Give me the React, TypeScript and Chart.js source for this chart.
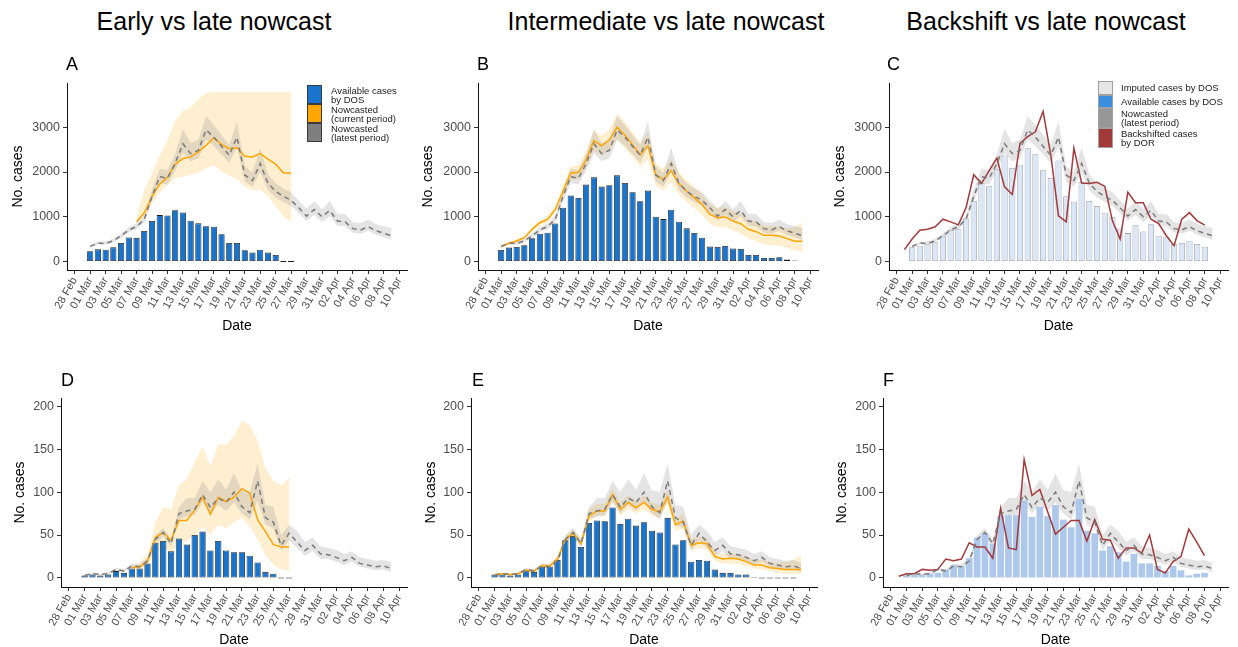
import React, { useEffect, useRef } from 'react';
import { Chart, registerables } from 'chart.js';

Chart.register(...registerables);

const FONT = "'Liberation Sans', Arial, Helvetica, sans-serif";

// ---------- axis categories ----------
const ORIGIN_DATE = '2020-02-28';
const TICK_DATES = [
  '2020-02-28', '2020-03-01', '2020-03-03', '2020-03-05', '2020-03-07', '2020-03-09', '2020-03-11',
  '2020-03-13', '2020-03-15', '2020-03-17', '2020-03-19', '2020-03-21', '2020-03-23', '2020-03-25',
  '2020-03-27', '2020-03-29', '2020-03-31', '2020-04-02', '2020-04-04', '2020-04-06', '2020-04-08',
  '2020-04-10',
];
const TICK_LABELS = [
  '28 Feb', '01 Mar', '03 Mar', '05 Mar', '07 Mar', '09 Mar', '11 Mar', '13 Mar', '15 Mar', '17 Mar',
  '19 Mar', '21 Mar', '23 Mar', '25 Mar', '27 Mar', '29 Mar', '31 Mar', '02 Apr', '04 Apr', '06 Apr',
  '08 Apr', '10 Apr',
];
const X_MIN_DATE = '2020-02-27';
const X_MAX_DATE = '2020-04-11';
const TOP_Y_TICKS = [0, 1000, 2000, 3000];
const BOTTOM_Y_TICKS = [0, 50, 100, 150, 200];
const TOP_Y_RANGE = [-190, 3990];
const BOTTOM_Y_RANGE = [-10.5, 209.5];

// ---------- series start dates ----------
const LATEST_START = '2020-03-01';
const EARLY_START = '2020-03-07';
const INTER_START = '2020-03-01';
const BARS_START = '2020-03-01';
const BACK_START = '2020-02-29';

// ---------- top row (all cases) ----------
const LATEST_TOP = [338, 412, 400, 463, 574, 706, 779, 941, 1456, 1897, 1860, 2191, 2632, 2412, 2485, 2941, 2779, 2574, 2375, 2779, 1934, 1809, 2191, 1750, 1566, 1456, 1368, 1199, 1015, 1162, 1000, 1140, 904, 882, 735, 706, 779, 684, 632, 574];
const LATEST_TOP_HI = [370, 440, 450, 510, 630, 770, 850, 1030, 1600, 2080, 2040, 2400, 2960, 2650, 2720, 3250, 3050, 2830, 2610, 3130, 2130, 1990, 2550, 1950, 1750, 1630, 1550, 1360, 1180, 1350, 1170, 1350, 1070, 1060, 880, 860, 940, 830, 790, 750];
const LATEST_TOP_LO = [310, 380, 380, 430, 530, 650, 720, 870, 1350, 1750, 1720, 2030, 2420, 2240, 2300, 2720, 2580, 2390, 2200, 2560, 1790, 1670, 2000, 1600, 1430, 1330, 1240, 1080, 910, 1040, 880, 1010, 800, 780, 640, 620, 690, 600, 540, 480];

const EARLY_TOP = [882, 1088, 1456, 1728, 1882, 2176, 2301, 2338, 2449, 2596, 2765, 2618, 2522, 2544, 2353, 2338, 2412, 2287, 2176, 1985, 1970];
const EARLY_TOP_HI = [1000, 1600, 1970, 2375, 2706, 3147, 3368, 3441, 3625, 3772, 3787, 3787, 3787, 3787, 3787, 3787, 3787, 3787, 3787, 3787, 3787];
const EARLY_TOP_LO = [860, 1015, 1309, 1530, 1713, 1860, 1897, 1934, 1985, 2081, 2154, 2007, 1912, 1838, 1676, 1588, 1603, 1456, 1235, 1015, 882];

const INTER_TOP = [333, 407, 459, 533, 719, 867, 941, 1163, 1570, 1978, 1993, 2274, 2704, 2585, 2719, 3000, 2830, 2607, 2385, 2585, 1941, 1830, 2030, 1741, 1570, 1422, 1274, 1052, 978, 993, 904, 844, 719, 667, 585, 585, 570, 511, 452, 452];
const INTER_TOP_HI = [350, 430, 490, 570, 770, 930, 1010, 1250, 1690, 2130, 2150, 2460, 2930, 2810, 2960, 3300, 3130, 2890, 2660, 2890, 2190, 2080, 2290, 2000, 1820, 1670, 1510, 1280, 1200, 1220, 1130, 1070, 940, 890, 800, 800, 790, 730, 780, 870];
const INTER_TOP_LO = [315, 385, 430, 500, 670, 810, 870, 1080, 1450, 1830, 1840, 2090, 2480, 2360, 2480, 2720, 2540, 2330, 2120, 2290, 1700, 1590, 1770, 1500, 1330, 1190, 1050, 840, 770, 770, 690, 630, 510, 460, 380, 370, 350, 300, 250, 220];

const BARS_A = [228, 272, 265, 316, 412, 537, 529, 684, 904, 1037, 1029, 1147, 1096, 912, 853, 787, 779, 610, 412, 412, 250, 199, 265, 199, 147, 0, 0];
const BARS_B = [259, 311, 326, 363, 519, 622, 644, 852, 1200, 1474, 1422, 1719, 1881, 1674, 1704, 1926, 1756, 1548, 1348, 1585, 1000, 948, 1156, 889, 741, 637, 533, 333, 326, 348, 289, 281, 148, 148, 81, 81, 96, 44, 7];
const BARS_C = [317, 354, 384, 428, 576, 701, 723, 959, 1351, 1756, 1683, 2066, 2369, 2089, 2162, 2531, 2399, 2037, 1867, 2258, 1461, 1336, 1771, 1351, 1240, 1092, 996, 738, 635, 812, 672, 834, 576, 554, 391, 413, 465, 391, 332];
const BACK_TOP = [266, 502, 701, 723, 775, 945, 886, 819, 1203, 1941, 1742, 2030, 2310, 1668, 1498, 2642, 2790, 2900, 3358, 2384, 1018, 886, 2531, 1756, 1742, 1771, 1683, 908, 502, 1550, 1314, 1314, 945, 849, 576, 354, 945, 1092, 908, 812];

// ---------- bottom row ----------
const LATEST_BOT = [3, 5, 4, 5, 10, 8, 14, 13, 20, 45, 53, 40, 75, 78, 80, 97, 82, 93, 88, 100, 83, 76, 113, 70, 65, 38, 52, 42, 32, 38, 28, 27, 24, 20, 24, 17, 15, 13, 14, 11];
const LATEST_BOT_HI = [4, 6, 5, 7, 12, 10, 17, 16, 24, 50, 58, 45, 82, 93, 93, 113, 100, 115, 103, 122, 102, 100, 133, 85, 83, 50, 62, 55, 42, 47, 37, 35, 33, 28, 31, 24, 22, 20, 21, 18];
const LATEST_BOT_LO = [2, 4, 3, 4, 8, 7, 12, 11, 17, 40, 48, 36, 68, 72, 73, 88, 75, 85, 78, 88, 75, 68, 90, 62, 58, 32, 44, 35, 26, 31, 22, 22, 19, 15, 19, 13, 11, 9, 10, 7];

const EARLY_BOT = [12, 13, 19, 47, 53, 44, 67, 67, 79, 94, 74, 94, 89, 94, 104, 99, 68, 54, 39, 36, 36];
const EARLY_BOT_HI = [14, 18, 28, 65, 83, 80, 108, 115, 135, 153, 130, 156, 155, 165, 183, 178, 160, 128, 113, 108, 117];
const EARLY_BOT_LO = [10, 10, 14, 30, 35, 30, 40, 43, 50, 60, 50, 62, 58, 65, 70, 60, 45, 27, 15, 10, 8];

const INTER_BOT = [4, 5, 4, 5, 9, 8, 14, 14, 22, 45, 52, 40, 72, 78, 78, 97, 80, 88, 82, 88, 80, 77, 94, 62, 66, 38, 41, 40, 25, 22, 23, 22, 19, 15, 15, 12, 11, 10, 10, 10];
const INTER_BOT_HI = [5, 6, 5, 6, 11, 10, 17, 17, 25, 49, 57, 45, 80, 86, 86, 105, 88, 96, 90, 96, 88, 85, 103, 70, 74, 45, 48, 47, 31, 28, 29, 28, 25, 21, 21, 19, 18, 19, 21, 27];
const INTER_BOT_LO = [3, 4, 3, 4, 8, 7, 12, 12, 19, 41, 48, 36, 66, 72, 72, 90, 73, 80, 75, 80, 73, 70, 86, 55, 58, 32, 35, 33, 20, 17, 17, 16, 14, 11, 10, 8, 6, 5, 5, 5];

const BARS_D = [3, 4, 3, 4, 8, 6, 11, 11, 17, 41, 43, 31, 46, 39, 50, 54, 32, 43, 32, 30, 30, 26, 18, 7, 5, 0, 0];
const BARS_E = [4, 4, 3, 4, 9, 7, 13, 13, 21, 44, 49, 36, 64, 67, 66, 82, 63, 69, 61, 65, 55, 53, 70, 39, 44, 19, 21, 20, 10, 6, 6, 4, 4, 1, 0, 0, 0, 0, 0];
const BARS_F = [3, 3.5, 4, 5, 6, 10, 15, 14, 23, 47, 52, 40, 72, 73, 73, 90, 71, 83, 72, 85, 68, 59, 92, 55, 52, 32, 37, 30, 19, 28, 17, 17, 14, 8, 14, 9, 3, 5, 6];
const BACK_BOT = [2, 5, 5, 10, 9, 10, 22, 20, 22, 41, 36, 36, 23, 81, 35, 33, 138, 96, 103, 77, 51, 59, 67, 67, 43, 68, 45, 44, 23, 35, 35, 29, 50, 10, 6, 19, 25, 57, 42, 26];

// ---------- text ----------
const COLUMN_TITLES = ['Early vs late nowcast', 'Intermediate vs late nowcast', 'Backshift vs late nowcast'];
const PANEL_LETTERS = ['A', 'B', 'C', 'D', 'E', 'F'];
const LEGEND_A = [['Available cases', 'by DOS'], ['Nowcasted', '(current period)'], ['Nowcasted', '(latest period)']];
const LEGEND_C = [['Imputed cases by DOS'], ['Available cases by DOS'], ['Nowcasted', '(latest period)'], ['Backshifted cases', 'by DOR']];

// ---------- colours ----------
const BLUE = '#1874CD';
const ORANGE = '#FFA500';
const ORANGE_BAND = 'rgba(255,165,0,0.18)';
const GRAY_LINE = '#7a7a7a';
const GRAY_BAND = 'rgba(128,128,128,0.21)';
const RED = '#a13a3c';

function dayIndex(d: string): number {
  return Math.round((Date.parse(d) - Date.parse(ORIGIN_DATE)) / 86400000);
}
function pts(start: string, values: number[]) {
  const s = dayIndex(start);
  return values.map((y, i) => ({ x: s + i, y }));
}

type Band = { start: string; mid: number[]; hi: number[]; lo: number[]; color: string; band: string; dash?: number[] };
type PanelCfg = {
  left: number; top: number; width: number; height: number;
  yWidth: number; padRight: number; padTop: number; padBottom: number; xHeight: number;
  titlePad: number; yRange: number[]; yTicks: number[];
  bars: number[]; barFill: string; barBorder: string; barBorderWidth: number; barPct: number;
  current?: Band; latest: Band; back?: number[];
};

const TOP_LATEST: Band = { start: LATEST_START, mid: LATEST_TOP, hi: LATEST_TOP_HI, lo: LATEST_TOP_LO, color: GRAY_LINE, band: GRAY_BAND, dash: [5, 4] };
const BOT_LATEST: Band = { start: LATEST_START, mid: LATEST_BOT, hi: LATEST_BOT_HI, lo: LATEST_BOT_LO, color: GRAY_LINE, band: GRAY_BAND, dash: [5, 4] };

const TOP_ROW = { top: 40, height: 300, padTop: 43, padBottom: 4, xHeight: 66, yRange: TOP_Y_RANGE, yTicks: TOP_Y_TICKS };
const BOT_ROW = { top: 355, height: 300, padTop: 43, padBottom: 5, xHeight: 63, yRange: BOTTOM_Y_RANGE, yTicks: BOTTOM_Y_TICKS };

const PANELS: PanelCfg[] = [
  { ...TOP_ROW, left: 0, width: 410, yWidth: 67, padRight: 3, titlePad: 9.6,
    bars: BARS_A, barFill: BLUE, barBorder: '#1e1e1e', barBorderWidth: 0.8, barPct: 0.8,
    current: { start: EARLY_START, mid: EARLY_TOP, hi: EARLY_TOP_HI, lo: EARLY_TOP_LO, color: ORANGE, band: ORANGE_BAND },
    latest: TOP_LATEST },
  { ...TOP_ROW, left: 410, width: 410, yWidth: 68, padRight: 2, titlePad: 9.6,
    bars: BARS_B, barFill: BLUE, barBorder: '#1e1e1e', barBorderWidth: 0.8, barPct: 0.8,
    current: { start: INTER_START, mid: INTER_TOP, hi: INTER_TOP_HI, lo: INTER_TOP_LO, color: ORANGE, band: ORANGE_BAND },
    latest: TOP_LATEST },
  { ...TOP_ROW, left: 820, width: 418, yWidth: 69, padRight: 10, titlePad: 11.6,
    bars: BARS_C, barFill: '#dbe6f6', barBorder: '#9aa0a8', barBorderWidth: 0.8, barPct: 0.8,
    latest: TOP_LATEST, back: BACK_TOP },
  { ...BOT_ROW, left: 0, width: 410, yWidth: 61, padRight: 3, titlePad: 11.6,
    bars: BARS_D, barFill: BLUE, barBorder: '#1e1e1e', barBorderWidth: 0.8, barPct: 0.8,
    current: { start: EARLY_START, mid: EARLY_BOT, hi: EARLY_BOT_HI, lo: EARLY_BOT_LO, color: ORANGE, band: ORANGE_BAND },
    latest: BOT_LATEST },
  { ...BOT_ROW, left: 410, width: 410, yWidth: 61, padRight: 3, titlePad: 12.6,
    bars: BARS_E, barFill: BLUE, barBorder: '#1e1e1e', barBorderWidth: 0.8, barPct: 0.8,
    current: { start: INTER_START, mid: INTER_BOT, hi: INTER_BOT_HI, lo: INTER_BOT_LO, color: ORANGE, band: ORANGE_BAND },
    latest: BOT_LATEST },
  { ...BOT_ROW, left: 820, width: 418, yWidth: 63, padRight: 10, titlePad: 13.6,
    bars: BARS_F, barFill: '#aec8ec', barBorder: '#ffffff', barBorderWidth: 0, barPct: 0.86,
    latest: BOT_LATEST, back: BACK_BOT },
];

function bandDatasets(b: Band, order: number) {
  return [
    { type: 'line', data: pts(b.start, b.hi), borderWidth: 0, pointRadius: 0, fill: '+1', backgroundColor: b.band, order },
    { type: 'line', data: pts(b.start, b.lo), borderWidth: 0, pointRadius: 0, fill: false, order },
  ];
}

function Panel({ cfg }: { cfg: PanelCfg }) {
  const ref = useRef<HTMLCanvasElement | null>(null);
  useEffect(() => {
    if (!ref.current) return;
    const datasets: any[] = [];
    if (cfg.current) datasets.push(...bandDatasets(cfg.current, 4));
    datasets.push(...bandDatasets(cfg.latest, 3));
    datasets.push({
      type: 'bar', data: pts(BARS_START, cfg.bars), backgroundColor: cfg.barFill, borderColor: cfg.barBorder,
      borderWidth: cfg.barBorderWidth, borderSkipped: false, barPercentage: cfg.barPct, categoryPercentage: 1,
      minBarLength: 1, order: 2,
    });
    if (cfg.current) {
      datasets.push({ type: 'line', data: pts(cfg.current.start, cfg.current.mid), borderColor: ORANGE, borderWidth: 1.5, pointRadius: 0, fill: false, order: 1 });
    }
    if (cfg.back) {
      datasets.push({ type: 'line', data: pts(BACK_START, cfg.back), borderColor: RED, borderWidth: 1.5, pointRadius: 0, fill: false, order: 1 });
    }
    datasets.push({ type: 'line', data: pts(cfg.latest.start, cfg.latest.mid), borderColor: GRAY_LINE, borderWidth: 1.5, borderDash: cfg.latest.dash, pointRadius: 0, fill: false, order: 0 });

    const axisCommon = {
      grid: { drawOnChartArea: false, drawTicks: true, tickLength: 4, color: '#333', offset: false },
      border: { display: true, color: '#111', width: 1 },
    };
    const chart = new Chart(ref.current, {
      type: 'line',
      data: { datasets },
      options: {
        responsive: false,
        animation: false,
        devicePixelRatio: 1,
        layout: { padding: { left: 0, right: cfg.padRight, top: cfg.padTop, bottom: cfg.padBottom } },
        plugins: { legend: { display: false }, tooltip: { enabled: false }, title: { display: false } },
        scales: {
          x: {
            type: 'linear', min: dayIndex(X_MIN_DATE), max: dayIndex(X_MAX_DATE), offset: false,
            afterBuildTicks: (s: any) => { s.ticks = TICK_DATES.map((d) => ({ value: dayIndex(d) })); },
            afterFit: (s: any) => { s.height = cfg.xHeight; s.paddingLeft = 0; s.paddingRight = 0; },
            ticks: {
              autoSkip: false, minRotation: 60, maxRotation: 60, padding: 1, color: '#4d4d4d',
              font: { family: FONT, size: 11 },
              callback: (_v: any, i: number) => TICK_LABELS[i],
            },
            ...axisCommon,
            title: { display: true, text: 'Date', color: '#000', font: { family: FONT, size: 14 }, padding: { top: 0, bottom: 1 } },
          },
          y: {
            type: 'linear', min: cfg.yRange[0], max: cfg.yRange[1],
            afterBuildTicks: (s: any) => { s.ticks = cfg.yTicks.map((v) => ({ value: v })); },
            afterFit: (s: any) => { s.width = cfg.yWidth; },
            ticks: { padding: 3, color: '#4d4d4d', font: { family: FONT, size: 12.5 }, callback: (v: any) => String(v) },
            ...axisCommon,
            title: { display: true, text: 'No. cases', color: '#000', font: { family: FONT, size: 14 }, padding: { top: cfg.titlePad, bottom: 0 } },
          },
        },
      } as any,
    } as any);
    return () => chart.destroy();
  }, [cfg]);
  return (
    <canvas
      ref={ref}
      width={cfg.width}
      height={cfg.height}
      style={{ position: 'absolute', left: cfg.left, top: cfg.top, width: cfg.width, height: cfg.height }}
    />
  );
}

type LegendItem = { lines: string[]; fill: string; border: string };

function Legend({ items, left, top, rowHeights, textGap }: { items: LegendItem[]; left: number; top: number; rowHeights: number[]; textGap: number }) {
  return (
    <div style={{ position: 'absolute', left, top, display: 'flex', flexDirection: 'column' }}>
      {items.map((it, i) => (
        <div key={i} style={{ display: 'flex', alignItems: 'center', height: rowHeights[i] }}>
          <div style={{ width: 15, height: rowHeights[i], boxSizing: 'border-box', background: it.fill, border: `1px solid ${it.border}` }} />
          <div style={{ marginLeft: textGap, fontSize: 9.5, lineHeight: '9px', color: '#1a1a1a', whiteSpace: 'nowrap' }}>
            {it.lines.map((l, j) => <div key={j}>{l}</div>)}
          </div>
        </div>
      ))}
    </div>
  );
}

const TITLE_CENTERS = [214, 666, 1046];
const LETTER_POS = [[66, 55], [477, 55], [887, 55], [61, 371], [472, 371], [883, 371]];

export default function App() {
  const legendA: LegendItem[] = [
    { lines: LEGEND_A[0], fill: BLUE, border: '#3a3a3a' },
    { lines: LEGEND_A[1], fill: ORANGE, border: '#3a3a3a' },
    { lines: LEGEND_A[2], fill: '#7f7f7f', border: '#3a3a3a' },
  ];
  const legendC: LegendItem[] = [
    { lines: LEGEND_C[0], fill: '#e6e6e6', border: '#a0a0a0' },
    { lines: LEGEND_C[1], fill: '#3b8de0', border: '#a0a0a0' },
    { lines: LEGEND_C[2], fill: '#979797', border: '#a0a0a0' },
    { lines: LEGEND_C[3], fill: '#a33a3a', border: '#a0a0a0' },
  ];
  return (
    <div style={{ position: 'absolute', left: 0, top: 0, width: 1238, height: 647, overflow: 'hidden', background: '#fff', fontFamily: FONT }}>
      {COLUMN_TITLES.map((t, i) => (
        <div key={t} style={{ position: 'absolute', left: TITLE_CENTERS[i] - 250, top: 9, width: 500, textAlign: 'center', fontSize: 25, lineHeight: '25px', color: '#000' }}>{t}</div>
      ))}
      {PANELS.map((p, i) => <Panel key={i} cfg={p} />)}
      {PANEL_LETTERS.map((l, i) => (
        <div key={l} style={{ position: 'absolute', left: LETTER_POS[i][0], top: LETTER_POS[i][1], fontSize: 18, lineHeight: '18px', color: '#000' }}>{l}</div>
      ))}
      <Legend items={legendA} left={307} top={85} rowHeights={[19, 19, 19]} textGap={9} />
      <Legend items={legendC} left={1098} top={81} rowHeights={[13.5, 13.5, 20, 20]} textGap={8} />
    </div>
  );
}
